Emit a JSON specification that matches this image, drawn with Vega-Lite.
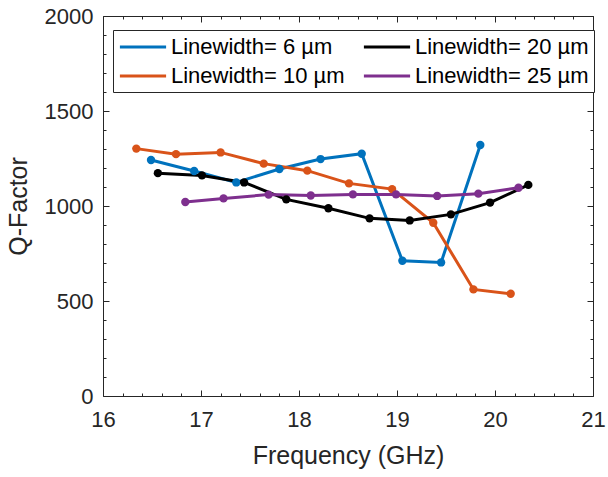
{
 "$schema": "https://vega.github.io/schema/vega-lite/v6.json",
 "width": 490, "height": 380,
 "autosize": "none",
 "padding": {"left": 103, "top": 16, "right": 15, "bottom": 81},
 "background": "white",
 "config": {"view": {"stroke": "#262626", "strokeWidth": 1}, "font": "Liberation Sans"},
 "data": {"values": [
  {"w": "6", "f": 16.49, "q": 1242}, {"w": "6", "f": 16.93, "q": 1184}, {"w": "6", "f": 17.36, "q": 1124}, {"w": "6", "f": 17.80, "q": 1195}, {"w": "6", "f": 18.22, "q": 1247}, {"w": "6", "f": 18.64, "q": 1275}, {"w": "6", "f": 19.055, "q": 712}, {"w": "6", "f": 19.45, "q": 703}, {"w": "6", "f": 19.85, "q": 1321},
  {"w": "10", "f": 16.34, "q": 1302}, {"w": "10", "f": 16.745, "q": 1273}, {"w": "10", "f": 17.20, "q": 1282}, {"w": "10", "f": 17.64, "q": 1223}, {"w": "10", "f": 18.085, "q": 1186}, {"w": "10", "f": 18.51, "q": 1119}, {"w": "10", "f": 18.95, "q": 1089}, {"w": "10", "f": 19.37, "q": 912}, {"w": "10", "f": 19.78, "q": 561}, {"w": "10", "f": 20.16, "q": 538},
  {"w": "20", "f": 16.56, "q": 1173}, {"w": "20", "f": 17.01, "q": 1161}, {"w": "20", "f": 17.44, "q": 1124}, {"w": "20", "f": 17.87, "q": 1035}, {"w": "20", "f": 18.30, "q": 988}, {"w": "20", "f": 18.72, "q": 935}, {"w": "20", "f": 19.13, "q": 924}, {"w": "20", "f": 19.55, "q": 956}, {"w": "20", "f": 19.95, "q": 1018}, {"w": "20", "f": 20.34, "q": 1111},
  {"w": "25", "f": 16.84, "q": 1021}, {"w": "25", "f": 17.23, "q": 1040}, {"w": "25", "f": 17.69, "q": 1060}, {"w": "25", "f": 18.12, "q": 1055}, {"w": "25", "f": 18.55, "q": 1061}, {"w": "25", "f": 18.99, "q": 1061}, {"w": "25", "f": 19.41, "q": 1053}, {"w": "25", "f": 19.83, "q": 1065}, {"w": "25", "f": 20.24, "q": 1096}
 ]},
 "layer": [
  {
   "mark": {"type": "line", "strokeWidth": 3, "point": {"filled": true, "size": 70}},
   "encoding": {
    "x": {"field": "f", "type": "quantitative", "scale": {"domain": [16, 21], "nice": false, "zero": false},
          "axis": {"orient": "bottom", "values": [16, 17, 18, 19, 20, 21], "format": "d", "grid": false, "domain": false, "tickColor": "#262626", "tickWidth": 1, "tickSize": -6, "labelColor": "#262626", "labelFontSize": 22, "labelPadding": 19, "labelFlush": false, "title": "Frequency (GHz)", "titleColor": "#262626", "titleFontWeight": "normal", "titleFontSize": 25, "titlePadding": 13}},
    "y": {"field": "q", "type": "quantitative", "scale": {"domain": [0, 2000], "nice": false},
          "axis": {"orient": "left", "values": [0, 500, 1000, 1500, 2000], "format": "d", "grid": false, "domain": false, "tickColor": "#262626", "tickWidth": 1, "tickSize": -6, "labelColor": "#262626", "labelFontSize": 22, "labelPadding": 16, "labelFlush": false, "title": "Q-Factor", "titleColor": "#262626", "titleFontWeight": "normal", "titleFontSize": 25, "titlePadding": 13}},
    "color": {"field": "w", "type": "nominal",
      "scale": {"domain": ["6", "10", "20", "25"], "range": ["#0072BD", "#D95319", "#000000", "#7E2F8E"]},
      "legend": {"orient": "none", "legendX": 10, "legendY": 14, "columns": 2, "title": null,
        "labelExpr": "'Linewidth= ' + datum.label + ' µm'", "symbolType": "M-2.2,0H2.2", "symbolSize": 441, "symbolStrokeWidth": 3,
        "labelFontSize": 22, "labelFont": "Liberation Sans", "labelColor": "#000000", "labelLimit": 400,
        "strokeColor": "#262626", "fillColor": "white", "padding": 5, "rowPadding": 6, "columnPadding": 12, "labelOffset": 16, "symbolOffset": 13}}
   }
  },
  {
   "mark": {"type": "point", "opacity": 0},
   "encoding": {
    "x": {"field": "f", "type": "quantitative", "scale": {"domain": [16, 21], "nice": false, "zero": false},
          "axis": {"orient": "bottom", "values": [16.2, 16.4, 16.6, 16.8, 17.2, 17.4, 17.6, 17.8, 18.2, 18.4, 18.6, 18.8, 19.2, 19.4, 19.6, 19.8, 20.2, 20.4, 20.6, 20.8], "grid": false, "domain": false, "labels": false, "tickColor": "#262626", "tickWidth": 1, "tickSize": -3, "title": null}},
    "y": {"field": "q", "type": "quantitative", "scale": {"domain": [0, 2000], "nice": false},
          "axis": {"orient": "left", "values": [100, 200, 300, 400, 600, 700, 800, 900, 1100, 1200, 1300, 1400, 1600, 1700, 1800, 1900], "grid": false, "domain": false, "labels": false, "tickColor": "#262626", "tickWidth": 1, "tickSize": -3, "title": null}}
   }
  },
  {
   "mark": {"type": "point", "opacity": 0},
   "encoding": {
    "x": {"field": "f", "type": "quantitative", "scale": {"domain": [16, 21], "nice": false, "zero": false},
          "axis": {"orient": "top", "values": [16, 17, 18, 19, 20, 21], "grid": false, "domain": false, "labels": false, "tickColor": "#262626", "tickWidth": 1, "tickSize": -6, "title": null}},
    "y": {"field": "q", "type": "quantitative", "scale": {"domain": [0, 2000], "nice": false},
          "axis": {"orient": "right", "values": [0, 500, 1000, 1500, 2000], "grid": false, "domain": false, "labels": false, "tickColor": "#262626", "tickWidth": 1, "tickSize": -6, "title": null}}
   }
  },
  {
   "mark": {"type": "point", "opacity": 0},
   "encoding": {
    "x": {"field": "f", "type": "quantitative", "scale": {"domain": [16, 21], "nice": false, "zero": false},
          "axis": {"orient": "top", "values": [16.2, 16.4, 16.6, 16.8, 17.2, 17.4, 17.6, 17.8, 18.2, 18.4, 18.6, 18.8, 19.2, 19.4, 19.6, 19.8, 20.2, 20.4, 20.6, 20.8], "grid": false, "domain": false, "labels": false, "tickColor": "#262626", "tickWidth": 1, "tickSize": -3, "title": null}},
    "y": {"field": "q", "type": "quantitative", "scale": {"domain": [0, 2000], "nice": false},
          "axis": {"orient": "right", "values": [100, 200, 300, 400, 600, 700, 800, 900, 1100, 1200, 1300, 1400, 1600, 1700, 1800, 1900], "grid": false, "domain": false, "labels": false, "tickColor": "#262626", "tickWidth": 1, "tickSize": -3, "title": null}}
   }
  }
 ],
 "resolve": {"axis": {"x": "independent", "y": "independent"}}
}
